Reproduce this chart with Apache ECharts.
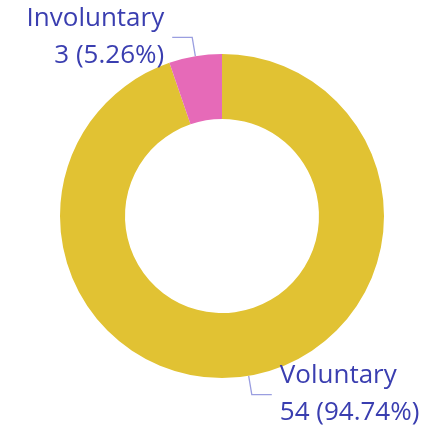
<!DOCTYPE html>
<html><head><meta charset="utf-8">
<script src="https://cdn.jsdelivr.net/npm/echarts@6/dist/echarts.min.js"></script>
<style>html,body{margin:0;padding:0;background:#fff}#c{width:443px;height:432px}</style>
</head><body><div id="c"></div>
<script>
const categories = ['Voluntary', 'Involuntary'];
const values = [54, 3];
const colors = ['#E1C233', '#E66AB8'];

const chart = echarts.init(document.getElementById('c'), null, {renderer: 'canvas'});
chart.setOption({
  animation: false,
  series: [{
    type: 'pie',
    center: [222, 216],
    radius: [97, 162],
    startAngle: 90,
    clockwise: true,
    avoidLabelOverlap: false,
    data: categories.map((c, i) => ({name: c, value: values[i], itemStyle: {color: colors[i]}})),
    label: {
      show: true,
      formatter: '{b}\n{c} ({d}%)',
      fontFamily: 'Open Sans',
      fontSize: 26,
      lineHeight: 37,
      color: '#3A3EB0',
      distanceToLabelLine: 8
    },
    labelLine: {
      show: true,
      length: 19,
      length2: 20,
      lineStyle: {color: '#9A9EE0', width: 1.3}
    },
    emphasis: {disabled: true}
  }]
});
</script></body></html>
